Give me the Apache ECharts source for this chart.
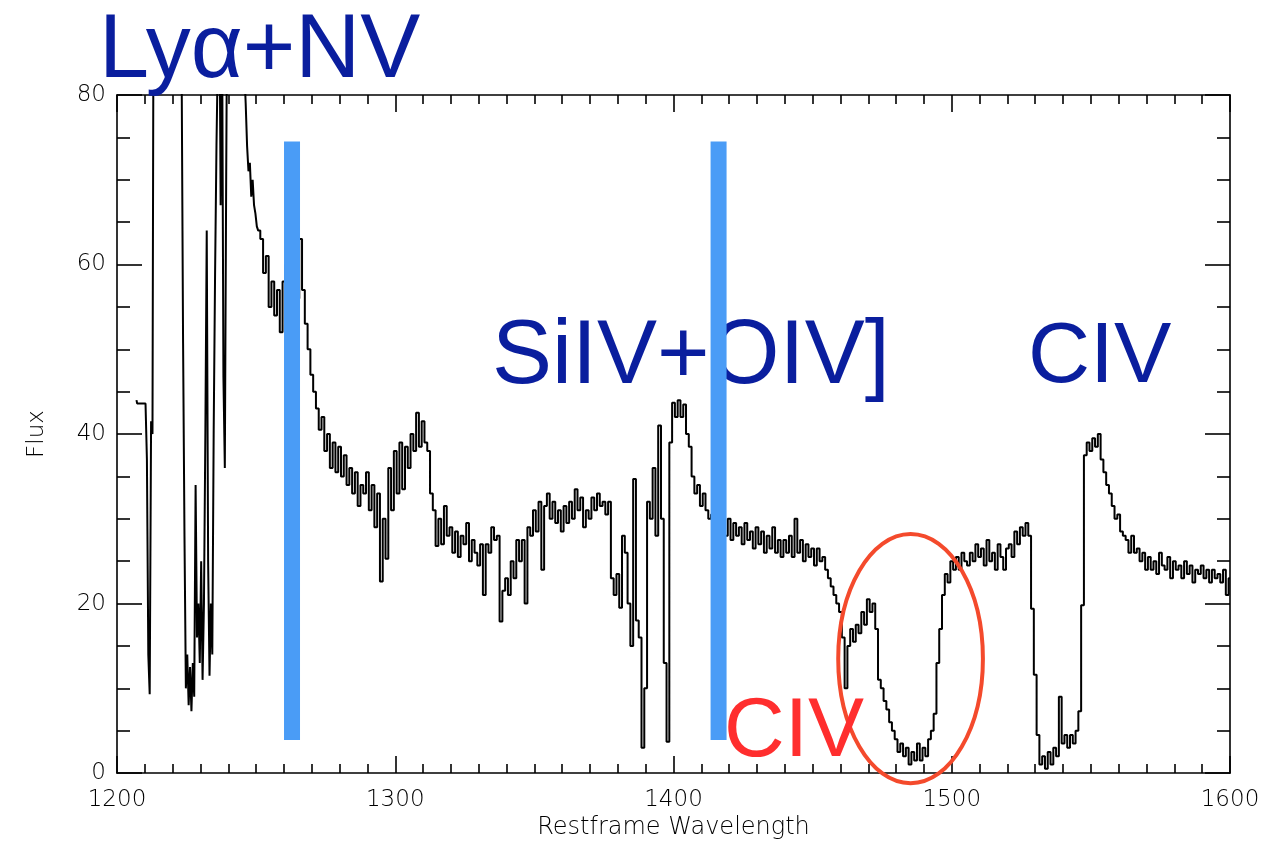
<!DOCTYPE html>
<html><head><meta charset="utf-8">
<script src="https://cdn.jsdelivr.net/npm/echarts@6/dist/echarts.min.js"></script>
<style>html,body{margin:0;padding:0;background:#fff}#c{width:1271px;height:845px}</style>
</head><body><div id="c"></div>
<script>
// ---- data ----
const lyaStart = 1207, lyaStep = 0.5;
const fluxLya = [
  44, 43.6,  43.6, 43.6,  43.6, 43.6,  43.6, 43.6,   // 1207-1210
  37, 14,  9.3, 41.5,  40, 110,                        // 1211-1213
  130, 150,  165, 175,  180, 178,  170, 160,  150, 140, // 1214-1218
  130, 122,  115, 108,  102, 97,  92, 88,  85, 82,     // 1219-1223
  50.7, 28,  10, 14,  8, 12.5,  7.3, 13,  9, 34,        // 1224-1228
  16, 20,  13, 25,  11, 20,  40, 64,  25, 11.5,         // 1229-1233
  20, 14,  40.5, 59,  74, 85,  95, 67,  90, 46.7,       // 1234-1238
  36, 71,  100, 110,  118, 122,  120, 115,  110, 104,   // 1239-1243
  98, 93,  89, 86,  83, 79,  74, 71,  72, 68,           // 1244-1248
  70, 67,  66, 64.5                                     // 1249-1250
];
const mainStart = 1251, mainStep = 1;
const fluxMain = [
  64, 63, 59, 61, 55, 58, 54, 57, 52, 58,
  60, 57, 58, 60, 56, 63, 57, 53, 50, 47,
  45, 43, 40.5, 42, 38, 40, 36, 39, 35.5, 38.5,
  35, 37.5, 34, 36, 33, 35.5, 31.5, 34, 33, 35.5,
  31, 34, 29, 33, 22.6, 30, 25.3, 36, 31, 38,
  33, 39, 33.5, 38.5, 36, 40, 38, 42.5, 38.5, 41.5,
  39, 38, 33, 31, 26.8, 30, 27, 31.5, 28, 29,
  26, 28.5, 25.5, 28, 27, 29.5, 25, 27.5, 26, 24.5,
  27, 21, 27, 26, 29, 27.5, 28, 17.9, 21.5, 23,
  21, 25, 23, 27.5, 25, 27.5, 20, 29, 28, 31,
  28.5, 32, 24, 31.5, 33, 30, 32, 29.5, 31, 28.5,
  31.5, 29.5, 32, 30, 33.5, 31, 32.5, 29, 31, 30,
  32.5, 31, 33, 31.5, 32, 30.5, 32, 23, 21, 23.5,
  19.5, 28, 26, 20, 15, 34.7, 18, 16, 3, 10,
  32, 30, 36, 28, 41, 30, 13, 3.7, 39, 43.7,
  42, 44, 42, 43.5, 40, 38.5, 35, 33, 34, 31.5,
  33, 31, 30, 30.5, 30, 29, 30, 29.5, 28, 30,
  27.5, 29.5, 28, 29, 27, 29.5, 27.5, 28.5, 26.5, 29,
  27, 28.5, 26, 28, 26.5, 29, 26, 27.5, 25.5, 27.5,
  26, 28, 25.5, 30, 26, 27.5, 25, 27, 25.5, 26.5,
  24.5, 26.5, 25, 25.5, 24, 23, 22, 21, 20, 19,
  16, 10, 15, 17, 15.5, 17.5, 16.5, 19, 17.5, 20.5,
  19, 20, 17, 11, 10, 8.5, 7.5, 6, 5, 4,
  2.5, 3.5, 2, 3, 1, 2.5, 1.5, 3.5, 1.5, 3,
  2, 4, 5, 7, 13, 17, 21, 23.5, 22.5, 25,
  24, 25.5, 24, 26, 25, 24.5, 26, 25, 27, 25.5,
  26.5, 24.5, 27.5, 25, 26, 24, 27, 25.5, 24, 26.5,
  27, 25.5, 28.5, 27, 29, 28, 29.5, 28, 19.4, 11.6,
  4.5, 1, 2, 0.5, 2.5, 1, 3, 2, 9, 3.5,
  4.5, 3, 4.5, 3.5, 5, 7.3, 19.8, 37.5, 39, 38,
  39.5, 38.5, 40, 37, 35.5, 34, 33, 31.5, 30, 30.5,
  28.5, 28, 27.5, 26, 28, 26, 26.5, 25, 26, 24,
  25.5, 24, 25, 23.5, 26, 24.5, 24, 25.5, 23, 25,
  24, 24.5, 23, 25, 23.5, 24.5, 22.5, 24, 23.5, 24.5,
  23, 24, 22.5, 24, 23, 23.5, 22.5, 24, 21, 23
];
const xRange = [1200, 1600], xStep = 100;
const yRange = [0, 80], yStep = 20;
const markerWavelengths = [1262.9, 1416.2];
const markerFluxRange = [3.9, 74.5];
const troughCenter = [1485.2, 13.5];
const troughRadii = [26, 14.7];
const labelTexts = ['Lyα+NV', 'SiIV+OIV]', 'CIV', 'CIV'];

// ---- build series ----
const spectrum = [];
fluxLya.forEach((f, i) => spectrum.push([lyaStart + i * lyaStep, f]));
fluxMain.forEach((f, i) => spectrum.push([mainStart + i * mainStep, f]));

const labelFont = "'DejaVu Sans', sans-serif";
const axisCol = '#000';
const plain = v => String(v);
function xAx(pos, showLabel) {
  return {
    type: 'value', position: pos, min: xRange[0], max: xRange[1], interval: xStep,
    axisLine: { show: true, onZero: false, lineStyle: { color: axisCol, width: 1.6 } },
    axisTick: { show: true, inside: true, length: 17, lineStyle: { color: axisCol, width: 1.6 } },
    minorTick: { show: true, splitNumber: 10, length: 9, lineStyle: { color: axisCol, width: 1.6 } },
    splitLine: { show: false },
    axisLabel: { show: showLabel, margin: 15, color: '#000', fontSize: 23, fontWeight: 200, fontFamily: labelFont, formatter: plain },
    name: showLabel ? 'Restframe Wavelength' : '', nameLocation: 'middle', nameGap: 39,
    nameTextStyle: { color: '#000', fontSize: 24, fontWeight: 200, fontFamily: labelFont }
  };
}
function yAx(pos, showLabel) {
  return {
    type: 'value', position: pos, min: yRange[0], max: yRange[1], interval: yStep,
    axisLine: { show: true, onZero: false, lineStyle: { color: axisCol, width: 1.6 } },
    axisTick: { show: true, inside: true, length: 25, lineStyle: { color: axisCol, width: 1.6 } },
    minorTick: { show: true, splitNumber: 4, length: 13, lineStyle: { color: axisCol, width: 1.6 } },
    splitLine: { show: false },
    axisLabel: { show: showLabel, margin: 11, color: '#000', fontSize: 23, fontWeight: 200, fontFamily: labelFont, formatter: plain },
    name: showLabel ? 'Flux' : '', nameLocation: 'middle', nameGap: 68, nameRotate: 90,
    nameTextStyle: { color: '#000', fontSize: 23, fontWeight: 200, fontFamily: labelFont }
  };
}

const chart = echarts.init(document.getElementById('c'), null, { renderer: 'canvas' });
chart.setOption({
  animation: false,
  backgroundColor: '#fff',
  grid: { left: 117, right: 41, top: 95, bottom: 70, containLabel: false },
  xAxis: [xAx('bottom', true), xAx('top', false)],
  yAxis: [yAx('left', true), yAx('right', false)],
  series: [{
    type: 'line', xAxisIndex: 0, yAxisIndex: 0, data: spectrum,
    step: 'middle', showSymbol: false, symbol: 'none', clip: true,
    lineStyle: { color: '#000', width: 2 }, z: 2
  }]
});

const toPx = p => chart.convertToPixel({ xAxisIndex: 0, yAxisIndex: 0 }, p);
const graphics = [];
const shadow = { shadowColor: 'rgba(0,0,0,0.25)', shadowBlur: 3, shadowOffsetX: 2, shadowOffsetY: 2 };
const bigFont = "90px 'Liberation Sans', Arial, sans-serif";
graphics.push({ type: 'text', x: 99, y: 52, z: 5, style: Object.assign({ text: labelTexts[0], font: bigFont, fill: '#0a1e9e', align: 'left', verticalAlign: 'middle' }, shadow) });
graphics.push({ type: 'text', x: 492, y: 358, z: 5, style: Object.assign({ text: labelTexts[1], font: bigFont, fill: '#0a1e9e', align: 'left', verticalAlign: 'middle' }, shadow) });
graphics.push({ type: 'text', x: 1028, y: 358, z: 5, style: Object.assign({ text: labelTexts[2], font: "86px 'Liberation Sans', Arial, sans-serif", fill: '#0a1e9e', align: 'left', verticalAlign: 'middle' }, shadow) });
markerWavelengths.forEach(w => {
  const top = toPx([w, markerFluxRange[1]]);
  const bot = toPx([w, markerFluxRange[0]]);
  graphics.push({ type: 'rect', z: 10, shape: { x: top[0] - 8, y: top[1], width: 16, height: bot[1] - top[1] }, style: { fill: '#4a9cf6' } });
});
const c = toPx(troughCenter);
const ex = toPx([troughCenter[0] + troughRadii[0], troughCenter[1]]);
const ey = toPx([troughCenter[0], troughCenter[1] + troughRadii[1]]);
graphics.push({ type: 'ellipse', z: 11, shape: { cx: c[0], cy: c[1], rx: Math.abs(ex[0] - c[0]), ry: Math.abs(c[1] - ey[1]) }, style: { fill: 'transparent', stroke: '#f44a2c', lineWidth: 4 } });
graphics.push({ type: 'text', x: 724, y: 733, z: 20, style: Object.assign({ text: labelTexts[3], font: "84px 'Liberation Sans', Arial, sans-serif", fill: '#ff2e2e', align: 'left', verticalAlign: 'middle' }, shadow) });

chart.setOption({ graphic: graphics });
</script></body></html>
